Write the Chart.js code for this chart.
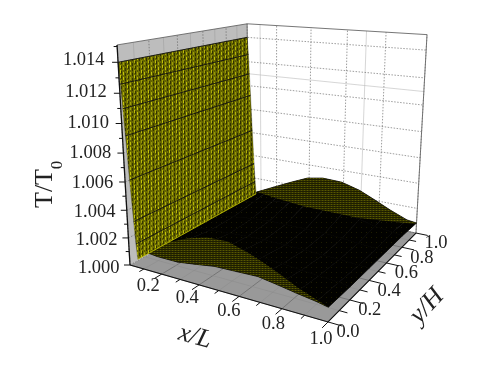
<!DOCTYPE html>
<html>
<head>
<meta charset="utf-8">
<script src="https://cdn.jsdelivr.net/npm/chart.js@4"></script>
<style>html,body{margin:0;background:#fff}canvas{display:block}</style>
</head>
<body>
<canvas id="canvas1" width="480" height="381"></canvas>
<script>
// axis ticks
let xTicks = [0.2, 0.4, 0.6, 0.8, 1.0];
let xMinor = [0.1, 0.3, 0.5, 0.7, 0.9];
let yTicks = [0.0, 0.2, 0.4, 0.6, 0.8, 1.0];
let yMinor = [0.1, 0.3, 0.5, 0.7, 0.9];
let zTicks = [1.000, 1.002, 1.004, 1.006, 1.008, 1.010, 1.012, 1.014];
let zMinor = [1.001, 1.003, 1.005, 1.007, 1.009, 1.011, 1.013, 1.015];

// the few light grid lines that show on the back wall
let lightWallX = [0.1, 0.7];
let lightWallZ = [1.011];

// steep part of the surface next to x=0 (same at every y)
let wallX = [0.020, 0.026, 0.031, 0.037, 0.046, 0.056, 0.062, 0.068];
let wallT = [1.0140, 1.0126, 1.0110, 1.0092, 1.0062, 1.0033, 1.0017, 1.0006];

// rest of the surface
let surfX = [0.07, 0.18, 0.29, 0.39, 0.48, 0.59, 0.69, 0.78, 0.86, 0.95, 1.0];
let surfY = [1.0, 0.8, 0.6, 0.4, 0.2, 0.0];
let surfT = [
  [1.00076, 1.00150, 1.00223, 1.00285, 1.00308, 1.00302, 1.00261, 1.00202, 1.00146, 1.00092, 1.00082],
  [1.00080, 1.00120, 1.00150, 1.00170, 1.00180, 1.00180, 1.00170, 1.00150, 1.00120, 1.00100, 1.00090],
  [1.00070, 1.00090, 1.00110, 1.00120, 1.00120, 1.00120, 1.00120, 1.00110, 1.00100, 1.00090, 1.00090],
  [1.00080, 1.00090, 1.00100, 1.00110, 1.00110, 1.00110, 1.00110, 1.00100, 1.00100, 1.00090, 1.00090],
  [1.00110, 1.00120, 1.00130, 1.00130, 1.00140, 1.00140, 1.00130, 1.00120, 1.00110, 1.00100, 1.00090],
  [1.00136, 1.00120, 1.00120, 1.00140, 1.00160, 1.00165, 1.00170, 1.00150, 1.00130, 1.00110, 1.00095]
];

// where the mesh looks olive instead of black
let backCapX = [1.0, 0.75, 0.45, 0.26, 0.07];
let backCapY = [0.97, 0.86, 0.865, 0.90, 1.0];
let backCapT = [1.0009, 1.0012, 1.0012, 1.0012, 1.0008];
let frontCapX = [0.85, 0.74, 0.62, 0.51, 0.37, 0.26, 0.19, 0.14, 0.07];
let frontCapY = [0.04, 0.095, 0.157, 0.21, 0.263, 0.255, 0.20, 0.118, 0.01];
let frontCapT = [1.0013, 1.0014, 1.0014, 1.0014, 1.0014, 1.0014, 1.0014, 1.0014, 1.0012];

let xMin = 0.02, xMax = 1.0, yMin = 0, yMax = 1, zMin = 1.0, zMax = 1.0151;

// perspective box, fitted to the corners of the picture
let origin = [130, 265];
let vanishX = [-962, -49], kx = -0.1535;
let vanishY = [695, -49],  ky = 0.2668;
let vanishZ = [276, 2745], kz = -0.0815;

function project(x, y, T) {
  let u = kx * (x - xMin) / (xMax - xMin);
  let v = ky * (y - yMin) / (yMax - yMin);
  let w = kz * (T - zMin) / (zMax - zMin);
  let d = 1 + u + v + w;
  return {
    x: (origin[0] + u * vanishX[0] + v * vanishY[0] + w * vanishZ[0]) / d,
    y: (origin[1] + u * vanishX[1] + v * vanishY[1] + w * vanishZ[1]) / d
  };
}

let canvas = document.getElementById('canvas1');
let ctx = canvas.getContext('2d');

function tile(w, h, draw) {
  let c = document.createElement('canvas');
  c.width = w; c.height = h;
  draw(c.getContext('2d'));
  return ctx.createPattern(c, 'repeat');
}
let olive = tile(3, 2, function(g) {
  g.fillStyle = '#3a3a00'; g.fillRect(0, 0, 3, 2);
  g.fillStyle = '#1e1e00'; g.fillRect(0, 1, 3, 1);
  g.fillStyle = '#585800'; g.fillRect(1, 0, 1, 1);
});
let blackDots = tile(5, 5, function(g) {
  g.fillStyle = '#020200'; g.fillRect(0, 0, 5, 5);
  g.fillStyle = '#1e1e00'; g.fillRect(1, 2, 1, 1);
});
let wallWeave = tile(7, 5, function(g) {
  g.fillStyle = '#727200'; g.fillRect(0, 0, 7, 5);
  g.fillStyle = '#c4c408'; g.fillRect(1, 0, 1, 3); g.fillRect(4, 2, 1, 3);
  g.fillStyle = '#383800'; g.fillRect(2, 1, 1, 3); g.fillRect(6, 3, 1, 2); g.fillRect(6, 0, 1, 1);
});

// every mark goes in here, back to front
let marks = [];
function poly(points, fillColor, edge) {
  marks.push({ data: points, showLine: true, pointRadius: 0, fill: 'shape',
    backgroundColor: fillColor, borderColor: edge || 'rgba(0,0,0,0)', borderWidth: edge ? 0.8 : 0 });
}
function line(points, color, width, dash) {
  marks.push({ data: points, showLine: true, pointRadius: 0, fill: false,
    borderColor: color, borderWidth: width, borderDash: dash || [] });
}

// the two grey box faces
poly([project(xMin,0,zMin), project(xMin,1,zMin), project(xMin,1,zMax), project(xMin,0,zMax)], '#bdbdbd');
poly([project(xMin,0,zMin), project(xMax,0,zMin), project(xMax,1,zMin), project(xMin,1,zMin)], '#999999');

// grid lines
let dark = 'rgba(90,90,90,0.85)', light = 'rgba(190,190,190,0.8)';
xTicks.forEach(function(v) {
  line([project(v,1,zMin), project(v,1,zMax)], dark, 0.7, [1.5,1.5]);
  line([project(v,0,zMin), project(v,1,zMin)], '#666', 0.7);
});
xMinor.forEach(function(v) {
  line([project(v,0,zMin), project(v,1,zMin)], '#8a8a8a', 0.5);
});
lightWallX.forEach(function(v) {
  line([project(v,1,zMin), project(v,1,zMax)], light, 0.8);
});
yTicks.forEach(function(v) {
  line([project(xMin,v,zMin), project(xMin,v,zMax)], dark, 0.7, [1.5,1.5]);
  line([project(xMin,v,zMin), project(xMax,v,zMin)], '#666', 0.7);
});
yMinor.forEach(function(v) {
  line([project(xMin,v,zMin), project(xMin,v,zMax)], '#9a9a9a', 0.5);
  line([project(xMin,v,zMin), project(xMax,v,zMin)], '#8a8a8a', 0.5);
});
zTicks.forEach(function(v) {
  line([project(xMin,0,v), project(xMin,1,v), project(xMax,1,v)], dark, 0.7, [1.5,1.5]);
});
lightWallZ.forEach(function(v) {
  line([project(xMin,1,v), project(xMax,1,v)], light, 0.8);
});

// box outline
line([project(xMin,0,zMax), project(xMin,1,zMax), project(xMax,1,zMax), project(xMax,1,zMin)], '#666', 0.9);
line([project(xMin,1,zMin), project(xMin,1,zMax)], '#666', 0.9);

// surface, far rows first
for (let r = 0; r < surfY.length - 1; r++) {
  for (let c = 0; c < surfX.length - 1; c++) {
    poly([project(surfX[c], surfY[r], surfT[r][c]), project(surfX[c+1], surfY[r], surfT[r][c+1]),
          project(surfX[c+1], surfY[r+1], surfT[r+1][c+1]), project(surfX[c], surfY[r+1], surfT[r+1][c])], blackDots, '#030300');
  }
}

// olive caps on the far and near edges
let backEdge = surfX.map(function(v, i) { return project(v, surfY[0], surfT[0][i]); });
poly(backEdge.concat(backCapX.map(function(v, i) { return project(v, backCapY[i], backCapT[i]); })), olive);
let frontEdge = surfX.map(function(v, i) { return project(v, surfY[5], surfT[5][i]); });
poly(frontEdge.concat(frontCapX.map(function(v, i) { return project(v, frontCapY[i], frontCapT[i]); })), olive);

// the steep wall
let wallFront = wallX.map(function(v, i) { return project(v, 0, wallT[i]); });
let wallBack = wallX.map(function(v, i) { return project(v, 1, wallT[i]); });
poly(wallFront.concat(wallBack.reverse()), wallWeave);
for (let m = 0; m <= 62; m++) {
  line(wallX.map(function(v, i) { return project(v, m / 62, wallT[i]); }), 'rgba(20,20,0,0.45)', 0.6);
}
wallX.forEach(function(v, i) {
  line([project(v, 0, wallT[i]), project(v, 1, wallT[i])], i == 7 ? '#b8b800' : '#111', 0.9);
});

// axes and tick marks
line([project(xMin,0,zMin), project(xMin,0,zMax)], '#111', 1.3);
line([project(xMin,0,zMin), project(xMax,0,zMin), project(xMax,1,zMin)], '#111', 1.1);
xTicks.forEach(function(v) { line([project(v,0,zMin), project(v,-0.05,zMin)], '#111', 1); });
xMinor.forEach(function(v) { line([project(v,0,zMin), project(v,-0.03,zMin)], '#111', 1); });
yTicks.forEach(function(v) { line([project(1,v,zMin), project(1.06,v,zMin)], '#111', 1); });
yMinor.forEach(function(v) { line([project(1,v,zMin), project(1.035,v,zMin)], '#111', 1); });
zTicks.forEach(function(v) {
  let p = project(xMin,0,v);
  line([p, { x: p.x - 6, y: p.y }], '#111', 1);
});
zMinor.forEach(function(v) {
  let p = project(xMin,0,v);
  line([p, { x: p.x - 3.5, y: p.y }], '#111', 1);
});

// tick labels and axis titles
let labelPlugin = {
  id: 'boxLabels',
  afterDraw: function(chart) {
    let g = chart.ctx, sx = chart.scales.x, sy = chart.scales.y;
    function put(text, px, py, font, align, angle) {
      g.save();
      g.translate(sx.getPixelForValue(px), sy.getPixelForValue(py));
      g.rotate((angle || 0) * Math.PI / 180);
      g.font = font;
      g.textAlign = align;
      g.textBaseline = 'middle';
      g.fillStyle = '#222';
      g.fillText(text, 0, 0);
      g.restore();
    }
    let tickFont = '18.5px "Liberation Serif"';
    xTicks.forEach(function(v) {
      let p = project(v,0,zMin);
      put(v.toFixed(1), p.x - 15 + 8 * v, p.y + 11 + 6 * v, tickFont, 'center');
    });
    yTicks.forEach(function(v) {
      let p = project(1,v,zMin);
      put(v.toFixed(1), p.x + 20, p.y + 10.5, tickFont, 'center');
    });
    zTicks.forEach(function(v) {
      let p = project(xMin,0,v), f = (v - zMin) / 0.014;
      put(v.toFixed(3), p.x - 10.5 - 3 * f, p.y + 3 - 5 * f, tickFont, 'right');
    });
    put('T/T', 45, 208, '26px "Liberation Serif"', 'left', -90);
    put('0', 58, 165, '17px "Liberation Serif"', 'center', -90);
    put('x/L', 195, 337, 'italic 26px "Liberation Serif"', 'center', 15);
    put('y/H', 427, 306, 'italic 26px "Liberation Serif"', 'center', -47);
  }
};

// first dataset is painted last, so flip the list
let options = {
  type: 'scatter',
  data: { datasets: marks.slice().reverse() },
  options: {
    responsive: false,
    animation: false,
    layout: { padding: 0 },
    elements: { line: { tension: 0 } },
    plugins: { legend: { display: false }, tooltip: { enabled: false } },
    scales: {
      x: { display: false, min: 0, max: 480 },
      y: { display: false, min: 0, max: 381, reverse: true }
    }
  },
  plugins: [labelPlugin]
};
let chart = new Chart(canvas, options);
</script>
</body>
</html>
